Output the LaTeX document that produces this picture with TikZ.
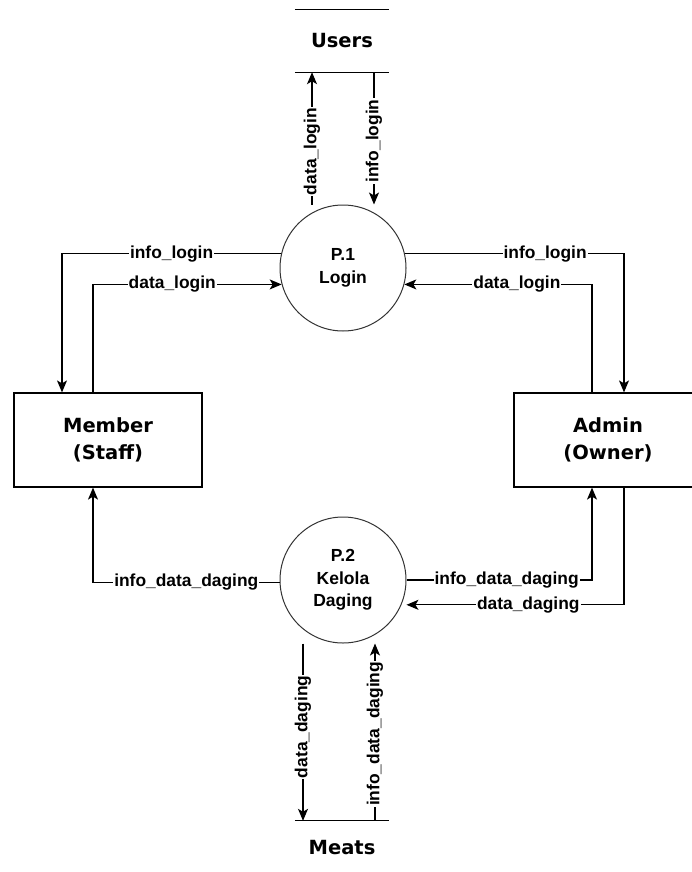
\documentclass[tikz,border=0pt]{standalone}
\usepackage{fontspec}
\setmainfont{Liberation Sans}
\newfontfamily\entfont{DejaVu Sans}
\usetikzlibrary{shapes.geometric, arrows.meta, positioning, calc}

\begin{document}
\begin{tikzpicture}[
    x=1pt, y=-1pt,
    entity/.style={rectangle, minimum width=188pt, minimum height=94pt, align=center, draw=black, line width=1.2pt, font=\entfont\fontsize{19.5}{27}\selectfont\bfseries},
    process/.style={circle, minimum size=126pt, inner sep=0pt, align=center, draw=black!80, line width=1pt, font=\fontsize{17.5}{22.5}\selectfont\bfseries},
    store/.style={minimum width=94pt, inner sep=0pt, font=\entfont\fontsize{19.5}{24}\selectfont\bfseries},
    lbl/.style={fill=white, inner sep=1pt, font=\fontsize{17.4}{20}\selectfont\bfseries},
    arrow/.style={line width=1.2pt, ->, >={Stealth[length=12pt, width=10pt, inset=3pt]}}
]
\useasboundingbox (0,0) rectangle (692,872);

\node (users) [store, minimum height=62pt] at (342,41) {Users};
\node (meats) [store, minimum height=54pt] at (342,848) {Meats};
\node (p1) [process] at (343,268) {P.1\\Login};
\node (p2) [process] at (343,580) {P.2\\Kelola\\Daging};
\node (member) [entity] at (108,440) {Member\\(Staff)};
\node (admin) [entity] at (608,440) {Admin\\(Owner)};

% data stores
\draw [line width=1.2pt] (users.north west) -- (users.north east);
\draw [line width=1.2pt] (users.south west) -- (users.south east);
\draw [line width=1.2pt] (meats.north west) -- (meats.north east);

\coordinate (ul) at ([xshift=-31pt]p1.north);
\coordinate (ur) at ([xshift=31pt]p1.north);
\coordinate (ml) at ([xshift=-40pt]p2.south);
\coordinate (mr) at ([xshift=32pt]p2.south);

% P.1 Login
\draw [arrow] (ul) -- node[lbl, rotate=90, pos=0.4] {data\_login} (ul |- users.south);
\draw [arrow] (ur |- users.south) -- node[lbl, rotate=90, pos=0.52] {info\_login} (ur);
\draw [arrow] (p1.167) -| node[lbl, pos=0.25] {info\_login} ([xshift=-46pt]member.north);
\draw [arrow] ([xshift=-15pt]member.north) |- node[lbl, pos=0.71] {data\_login} (p1.195);
\draw [arrow] (p1.13) -| node[lbl, pos=0.32] {info\_login} ([xshift=16pt]admin.north);
\draw [arrow] ([xshift=-16pt]admin.north) |- node[lbl, pos=0.7] {data\_login} (p1.345);

% P.2 Kelola Daging
\draw [arrow] (p2.182) -| node[lbl, pos=0.25] {info\_data\_daging} ([xshift=-15pt]member.south);
\draw [arrow] (p2.0) -| node[lbl, pos=0.27] {info\_data\_daging} ([xshift=-16pt]admin.south);
\draw [arrow] ([xshift=16pt]admin.south) |- node[lbl, pos=0.72] {data\_daging} ([xshift=5pt]p2.337);
\draw [arrow] (ml) -- node[lbl, rotate=90, pos=0.47] {data\_daging} (ml |- meats.north);
\draw [arrow] (mr |- meats.north) -- node[lbl, rotate=90, pos=0.49] {info\_data\_daging} (mr);

\end{tikzpicture}
\end{document}
